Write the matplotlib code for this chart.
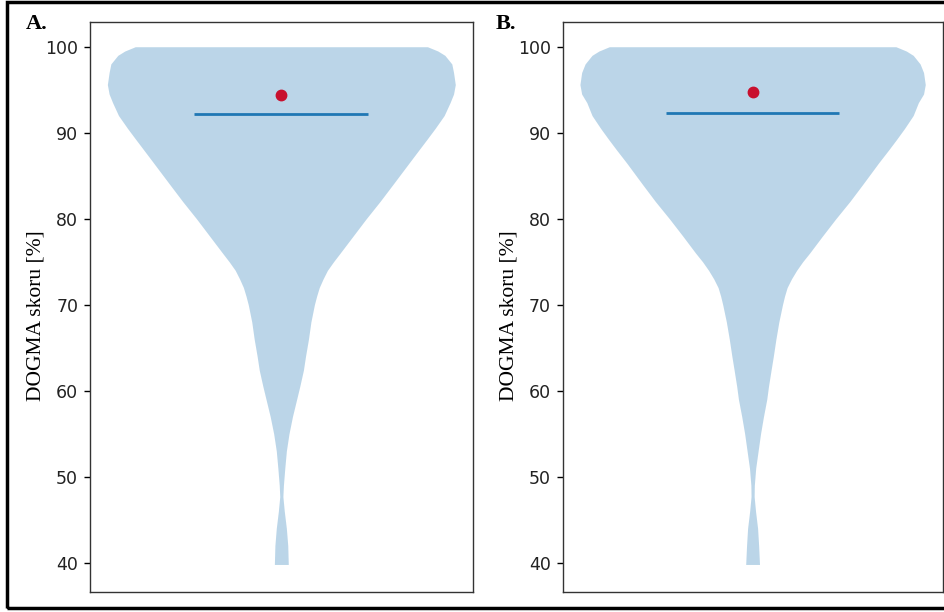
import matplotlib
matplotlib.use("Agg")
import matplotlib.pyplot as plt
from matplotlib.patches import Rectangle
import numpy as np

# score grid (%) and relative density of the violin outline at each score
scores = [100, 99.5, 99, 98, 97, 95.6, 94.5, 93.5, 92, 90.5, 89.2, 88, 86.5,
          84, 82, 80, 78, 76, 75, 74, 73, 72, 71, 70, 68, 66, 64, 62.4, 60.5,
          59, 57, 55, 53, 51, 49, 47.7, 46, 44, 42, 39.8]

density_a = [.84, .90, .94, .98, .99, 1.0, .99, .97, .936, .884, .836, .791, .735,
             .642, .567, .488, .413, .338, .30, .265, .24, .218, .203, .19, .17,
             .156, .139, .127, .106, .088, .064, .044, .029, .020, .012, .009,
             .017, .029, .037, .040]

density_b = [.83, .89, .93, .97, .99, 1.0, .99, .96, .93, .88, .833, .788, .73,
             .638, .563, .482, .405, .33, .29, .255, .225, .20, .185, .173, .152,
             .135, .12, .107, .092, .082, .063, .046, .032, .018, .010, .009,
             .017, .029, .035, .040]

line_value = {"A.": 92.2, "B.": 92.3}
dot_value = {"A.": 94.4, "B.": 94.7}
yticks = [40, 50, 60, 70, 80, 90, 100]

fig = plt.figure(figsize=(9.45, 6.12), dpi=100)

panels = [("A.", density_a, [0.0952, 0.0327, 0.405, 0.931], 0.027),
          ("B.", density_b, [0.5954, 0.0327, 0.402, 0.931], 0.525)]

for name, dens, rect, tx in panels:
    ax = fig.add_axes(rect)
    hw = np.array(dens) * 0.25
    ax.fill_betweenx(scores, 1 - hw, 1 + hw, color="#1f77b4", alpha=0.3, lw=0)
    ax.hlines(line_value[name], 1 - 0.125, 1 + 0.125, color="#1f77b4", lw=2)
    ax.plot([1], [dot_value[name]], "o", color="#c8102e", ms=7.5, zorder=3)

    ax.set_xlim(0.725, 1.275)
    ax.set_ylim(36.6, 102.85)
    ax.set_xticks([])
    ax.set_yticks(yticks)
    ax.tick_params(axis="y", labelsize=12.5, length=4.5, width=1,
                   pad=4, labelcolor="#222222")
    for s in ax.spines.values():
        s.set_color("#333333")
        s.set_linewidth(1)
    ax.set_ylabel("DOGMA skoru [%]", family="Liberation Serif", fontsize=15.5)
    ax.yaxis.set_label_coords(-0.116, 0.485)
    fig.text(tx, 1 - 29 / 612, name, family="Liberation Serif",
             fontweight="bold", fontsize=16, va="baseline")

# frame around the whole figure
fig.patches.append(Rectangle((7 / 945, 4 / 612), 1.0, 606 / 612,
                             transform=fig.transFigure, fill=False,
                             ec="black", lw=2.5))

fig.savefig("out.png", dpi=100)
